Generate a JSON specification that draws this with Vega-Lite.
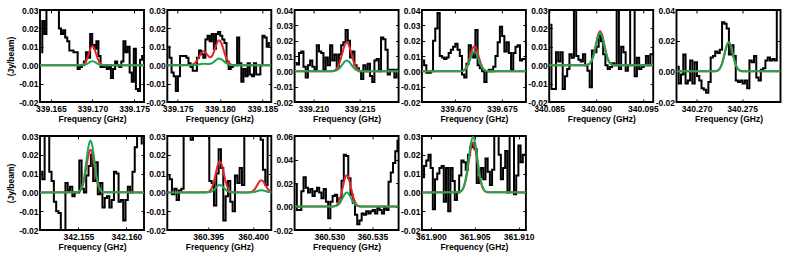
{
"$schema":"https://vega.github.io/schema/vega-lite/v6.json",
"padding":{"left":5,"top":5,"right":2,"bottom":2},
"config":{
 "view":{"stroke":"#000","strokeWidth":1.9},
 "line":{"strokeWidth":2},
 "axis":{"domain":false,"grid":false,"tickSize":-3,"tickColor":"#000","tickWidth":1,"labelColor":"#000","titleColor":"#000","labelFont":"Liberation Sans","titleFont":"Liberation Sans","labelFontSize":8.5,"titleFontSize":8.5,"labelFontWeight":"bold","titleFontWeight":"bold","labelFlush":false,"labelOverlap":false,"labelBound":false},
 "axisX":{"labelPadding":5.5,"titlePadding":1},
 "axisY":{"labelPadding":5,"titlePadding":3},
 "locale":{"number":{"decimal":".","thousands":",","grouping":[3],"currency":["$",""],"minus":"-"}}
},
"datasets":{
"P1s":[{"f":339.16385,"v":0.007},{"f":339.16410,"v":0.024},{"f":339.16435,"v":0.017},{"f":339.16460,"v":0.035},{"f":339.16485,"v":0.035},{"f":339.16510,"v":0.035},{"f":339.16535,"v":0.035},{"f":339.16560,"v":0.035},{"f":339.16585,"v":0.035},{"f":339.16610,"v":0.020},{"f":339.16635,"v":0.017},{"f":339.16660,"v":0.019},{"f":339.16685,"v":0.015},{"f":339.16710,"v":0.013},{"f":339.16735,"v":0.008},{"f":339.16760,"v":0.008},{"f":339.16785,"v":0.007},{"f":339.16810,"v":0.007},{"f":339.16835,"v":-0.002},{"f":339.16860,"v":-0.001},{"f":339.16885,"v":0.000},{"f":339.16910,"v":0.002},{"f":339.16935,"v":0.007},{"f":339.16960,"v":0.004},{"f":339.16985,"v":0.017},{"f":339.17010,"v":0.011},{"f":339.17035,"v":0.009},{"f":339.17060,"v":0.013},{"f":339.17085,"v":0.005},{"f":339.17110,"v":-0.001},{"f":339.17135,"v":-0.001},{"f":339.17160,"v":0.000},{"f":339.17185,"v":-0.002},{"f":339.17210,"v":0.000},{"f":339.17235,"v":-0.007},{"f":339.17260,"v":-0.002},{"f":339.17285,"v":0.002},{"f":339.17310,"v":0.000},{"f":339.17335,"v":-0.001},{"f":339.17360,"v":0.002},{"f":339.17385,"v":0.013},{"f":339.17410,"v":0.007},{"f":339.17435,"v":0.010},{"f":339.17460,"v":-0.004},{"f":339.17485,"v":-0.009},{"f":339.17510,"v":0.009},{"f":339.17535,"v":-0.013},{"f":339.17560,"v":-0.014},{"f":339.17585,"v":0.003},{"f":339.17610,"v":0.005}],
"P1r":[{"f":339.1637,"v":0},{"f":339.16850,"v":0.00002},{"f":339.16871,"v":0.00012},{"f":339.16893,"v":0.00046},{"f":339.16914,"v":0.00142},{"f":339.16936,"v":0.00341},{"f":339.16957,"v":0.00637},{"f":339.16979,"v":0.00927},{"f":339.17000,"v":0.0105},{"f":339.17022,"v":0.00927},{"f":339.17043,"v":0.00637},{"f":339.17065,"v":0.00341},{"f":339.17086,"v":0.00142},{"f":339.17108,"v":0.00046},{"f":339.17129,"v":0.00012},{"f":339.17151,"v":0.00002},{"f":339.1762,"v":0}],
"P1g":[{"f":339.1637,"v":0},{"f":339.16850,"v":0},{"f":339.16871,"v":0.00002},{"f":339.16893,"v":0.0001},{"f":339.16914,"v":0.0003},{"f":339.16936,"v":0.00071},{"f":339.16957,"v":0.00133},{"f":339.16979,"v":0.00194},{"f":339.17000,"v":0.0022},{"f":339.17022,"v":0.00194},{"f":339.17043,"v":0.00133},{"f":339.17065,"v":0.00071},{"f":339.17086,"v":0.0003},{"f":339.17108,"v":0.0001},{"f":339.17129,"v":0.00002},{"f":339.17151,"v":0},{"f":339.1762,"v":0}],
"P2s":[{"f":339.17390,"v":0.010},{"f":339.17415,"v":0.004},{"f":339.17440,"v":-0.004},{"f":339.17465,"v":-0.006},{"f":339.17490,"v":-0.014},{"f":339.17515,"v":-0.006},{"f":339.17540,"v":0.005},{"f":339.17565,"v":0.005},{"f":339.17590,"v":0.005},{"f":339.17615,"v":0.004},{"f":339.17640,"v":0.001},{"f":339.17665,"v":-0.001},{"f":339.17690,"v":-0.003},{"f":339.17715,"v":-0.003},{"f":339.17740,"v":0.004},{"f":339.17765,"v":0.008},{"f":339.17790,"v":0.006},{"f":339.17815,"v":0.004},{"f":339.17840,"v":0.014},{"f":339.17865,"v":0.016},{"f":339.17890,"v":0.013},{"f":339.17915,"v":0.017},{"f":339.17940,"v":0.009},{"f":339.17965,"v":0.017},{"f":339.17990,"v":0.018},{"f":339.18015,"v":0.016},{"f":339.18040,"v":0.014},{"f":339.18065,"v":0.012},{"f":339.18090,"v":0.002},{"f":339.18115,"v":-0.002},{"f":339.18140,"v":-0.001},{"f":339.18165,"v":0.000},{"f":339.18190,"v":0.000},{"f":339.18215,"v":0.015},{"f":339.18240,"v":0.001},{"f":339.18265,"v":-0.009},{"f":339.18290,"v":-0.002},{"f":339.18315,"v":-0.006},{"f":339.18340,"v":0.001},{"f":339.18365,"v":-0.005},{"f":339.18390,"v":-0.006},{"f":339.18415,"v":0.001},{"f":339.18440,"v":-0.005},{"f":339.18465,"v":-0.005},{"f":339.18490,"v":0.000},{"f":339.18515,"v":0.016},{"f":339.18540,"v":0.015},{"f":339.18565,"v":0.010},{"f":339.18590,"v":0.012}],
"P2r":[{"f":339.17377,"v":0},{"f":339.17648,"v":0.0001},{"f":339.17674,"v":0.00033},{"f":339.17700,"v":0.00101},{"f":339.17727,"v":0.00244},{"f":339.17753,"v":0.00455},{"f":339.17780,"v":0.0066},{"f":339.17806,"v":0.00753},{"f":339.17832,"v":0.00677},{"f":339.17859,"v":0.00514},{"f":339.17885,"v":0.00427},{"f":339.17912,"v":0.00539},{"f":339.17938,"v":0.00852},{"f":339.17964,"v":0.01199},{"f":339.17991,"v":0.01352},{"f":339.18017,"v":0.01191},{"f":339.18044,"v":0.00819},{"f":339.18070,"v":0.00438},{"f":339.18096,"v":0.00183},{"f":339.18123,"v":0.00059},{"f":339.18149,"v":0.00015},{"f":339.18176,"v":0.00003},{"f":339.18607,"v":0}],
"P2g":[{"f":339.17377,"v":0},{"f":339.17648,"v":0.00001},{"f":339.17674,"v":0.00004},{"f":339.17700,"v":0.0001},{"f":339.17727,"v":0.00026},{"f":339.17753,"v":0.00049},{"f":339.17780,"v":0.00071},{"f":339.17806,"v":0.0008},{"f":339.17832,"v":0.00075},{"f":339.17859,"v":0.00065},{"f":339.17885,"v":0.00075},{"f":339.17912,"v":0.00128},{"f":339.17938,"v":0.00222},{"f":339.17964,"v":0.00318},{"f":339.17991,"v":0.0036},{"f":339.18017,"v":0.00318},{"f":339.18044,"v":0.00218},{"f":339.18070,"v":0.00117},{"f":339.18096,"v":0.00049},{"f":339.18123,"v":0.00016},{"f":339.18149,"v":0.00004},{"f":339.18176,"v":0.00001},{"f":339.18607,"v":0}],
"P3s":[{"f":339.20808,"v":0.0055},{"f":339.20832,"v":0.0045},{"f":339.20856,"v":0.012},{"f":339.20880,"v":0.013},{"f":339.20904,"v":0.003},{"f":339.20928,"v":-0.004},{"f":339.20952,"v":0.004},{"f":339.20976,"v":0.007},{"f":339.21000,"v":0.003},{"f":339.21024,"v":0.001},{"f":339.21048,"v":0.017},{"f":339.21072,"v":0.013},{"f":339.21096,"v":0.012},{"f":339.21120,"v":0.001},{"f":339.21144,"v":0.009},{"f":339.21168,"v":0.004},{"f":339.21192,"v":0.017},{"f":339.21216,"v":0.007},{"f":339.21240,"v":0.011},{"f":339.21264,"v":0.003},{"f":339.21288,"v":0.011},{"f":339.21312,"v":0.017},{"f":339.21336,"v":0.019},{"f":339.21360,"v":0.027},{"f":339.21384,"v":0.020},{"f":339.21408,"v":0.009},{"f":339.21432,"v":0.013},{"f":339.21456,"v":0.004},{"f":339.21480,"v":0.002},{"f":339.21504,"v":0.000},{"f":339.21528,"v":-0.005},{"f":339.21552,"v":0.004},{"f":339.21576,"v":0.000},{"f":339.21600,"v":0.005},{"f":339.21624,"v":-0.003},{"f":339.21648,"v":-0.007},{"f":339.21672,"v":0.007},{"f":339.21696,"v":0.008},{"f":339.21720,"v":0.000},{"f":339.21744,"v":0.022},{"f":339.21768,"v":0.021},{"f":339.21792,"v":0.014},{"f":339.21816,"v":-0.002},{"f":339.21840,"v":0.001},{"f":339.21864,"v":0.001},{"f":339.21888,"v":-0.004},{"f":339.21912,"v":0.001}],
"P3r":[{"f":339.20796,"v":0},{"f":339.21186,"v":0.00004},{"f":339.21211,"v":0.00021},{"f":339.21236,"v":0.00083},{"f":339.21261,"v":0.00257},{"f":339.21286,"v":0.00617},{"f":339.21311,"v":0.01152},{"f":339.21336,"v":0.01677},{"f":339.21361,"v":0.019},{"f":339.21386,"v":0.01677},{"f":339.21411,"v":0.01152},{"f":339.21436,"v":0.00617},{"f":339.21461,"v":0.00257},{"f":339.21486,"v":0.00083},{"f":339.21511,"v":0.00021},{"f":339.21536,"v":0.00004},{"f":339.21922,"v":0}],
"P3g":[{"f":339.20796,"v":0},{"f":339.21186,"v":0.00002},{"f":339.21211,"v":0.00008},{"f":339.21236,"v":0.00031},{"f":339.21261,"v":0.00095},{"f":339.21286,"v":0.00227},{"f":339.21311,"v":0.00425},{"f":339.21336,"v":0.00618},{"f":339.21361,"v":0.007},{"f":339.21386,"v":0.00618},{"f":339.21411,"v":0.00425},{"f":339.21436,"v":0.00227},{"f":339.21461,"v":0.00095},{"f":339.21486,"v":0.00031},{"f":339.21511,"v":0.00008},{"f":339.21536,"v":0.00002},{"f":339.21922,"v":0}],
"P4s":[{"f":339.66652,"v":0.007},{"f":339.66676,"v":0.004},{"f":339.66700,"v":-0.001},{"f":339.66724,"v":-0.001},{"f":339.66748,"v":0.000},{"f":339.66772,"v":0.020},{"f":339.66796,"v":0.028},{"f":339.66820,"v":0.038},{"f":339.66844,"v":0.010},{"f":339.66868,"v":0.009},{"f":339.66892,"v":0.008},{"f":339.66916,"v":0.009},{"f":339.66940,"v":0.012},{"f":339.66964,"v":0.014},{"f":339.66988,"v":0.016},{"f":339.67012,"v":0.018},{"f":339.67036,"v":0.014},{"f":339.67060,"v":0.010},{"f":339.67084,"v":-0.002},{"f":339.67108,"v":-0.004},{"f":339.67132,"v":0.005},{"f":339.67156,"v":0.017},{"f":339.67180,"v":0.012},{"f":339.67204,"v":0.009},{"f":339.67228,"v":0.027},{"f":339.67252,"v":0.004},{"f":339.67276,"v":0.002},{"f":339.67300,"v":0.000},{"f":339.67324,"v":-0.007},{"f":339.67348,"v":0.000},{"f":339.67372,"v":0.001},{"f":339.67396,"v":0.000},{"f":339.67420,"v":0.003},{"f":339.67444,"v":0.010},{"f":339.67468,"v":0.019},{"f":339.67492,"v":0.029},{"f":339.67516,"v":0.023},{"f":339.67540,"v":0.013},{"f":339.67564,"v":0.019},{"f":339.67588,"v":0.012},{"f":339.67612,"v":0.001},{"f":339.67636,"v":0.012},{"f":339.67660,"v":0.016},{"f":339.67684,"v":0.017},{"f":339.67708,"v":0.007},{"f":339.67732,"v":0.008},{"f":339.67756,"v":0.008}],
"P4r":[{"f":339.6664,"v":0},{"f":339.67048,"v":0.00004},{"f":339.67070,"v":0.00018},{"f":339.67093,"v":0.00072},{"f":339.67115,"v":0.00223},{"f":339.67138,"v":0.00536},{"f":339.67160,"v":0.01001},{"f":339.67183,"v":0.01456},{"f":339.67205,"v":0.0165},{"f":339.67228,"v":0.01456},{"f":339.67250,"v":0.01001},{"f":339.67273,"v":0.00536},{"f":339.67295,"v":0.00223},{"f":339.67318,"v":0.00072},{"f":339.67340,"v":0.00018},{"f":339.67363,"v":0.00004},{"f":339.6776,"v":0}],
"P4g":[{"f":339.6664,"v":0},{"f":339.67048,"v":0.00003},{"f":339.67070,"v":0.00014},{"f":339.67093,"v":0.00057},{"f":339.67115,"v":0.00176},{"f":339.67138,"v":0.00422},{"f":339.67160,"v":0.00788},{"f":339.67183,"v":0.01147},{"f":339.67205,"v":0.013},{"f":339.67228,"v":0.01147},{"f":339.67250,"v":0.00788},{"f":339.67273,"v":0.00422},{"f":339.67295,"v":0.00176},{"f":339.67318,"v":0.00057},{"f":339.67340,"v":0.00014},{"f":339.67363,"v":0.00003},{"f":339.6776,"v":0}],
"P5s":[{"f":340.08512,"v":0.022},{"f":340.08536,"v":-0.013},{"f":340.08560,"v":-0.013},{"f":340.08584,"v":0.007},{"f":340.08608,"v":0.002},{"f":340.08632,"v":0.007},{"f":340.08656,"v":-0.013},{"f":340.08680,"v":-0.006},{"f":340.08704,"v":-0.002},{"f":340.08728,"v":0.006},{"f":340.08752,"v":0.004},{"f":340.08776,"v":0.035},{"f":340.08800,"v":0.005},{"f":340.08824,"v":0.003},{"f":340.08848,"v":0.002},{"f":340.08872,"v":0.006},{"f":340.08896,"v":0.000},{"f":340.08920,"v":-0.003},{"f":340.08944,"v":-0.012},{"f":340.08968,"v":0.008},{"f":340.08992,"v":0.007},{"f":340.09016,"v":0.010},{"f":340.09040,"v":0.016},{"f":340.09064,"v":0.013},{"f":340.09088,"v":0.006},{"f":340.09112,"v":0.000},{"f":340.09136,"v":-0.002},{"f":340.09160,"v":-0.001},{"f":340.09184,"v":0.001},{"f":340.09208,"v":0.000},{"f":340.09232,"v":0.035},{"f":340.09256,"v":-0.002},{"f":340.09280,"v":0.010},{"f":340.09304,"v":0.007},{"f":340.09328,"v":-0.003},{"f":340.09352,"v":0.000},{"f":340.09376,"v":0.035},{"f":340.09400,"v":0.035},{"f":340.09424,"v":-0.006},{"f":340.09448,"v":0.004},{"f":340.09472,"v":-0.002},{"f":340.09496,"v":-0.001},{"f":340.09520,"v":0.000},{"f":340.09544,"v":0.005},{"f":340.09568,"v":0.000},{"f":340.09592,"v":0.006},{"f":340.09616,"v":0.006}],
"P5r":[{"f":340.085,"v":0},{"f":340.08886,"v":0.00004},{"f":340.08908,"v":0.00021},{"f":340.08931,"v":0.00081},{"f":340.08953,"v":0.0025},{"f":340.08976,"v":0.00601},{"f":340.08998,"v":0.01122},{"f":340.09021,"v":0.01633},{"f":340.09043,"v":0.0185},{"f":340.09066,"v":0.01633},{"f":340.09088,"v":0.01122},{"f":340.09111,"v":0.00601},{"f":340.09133,"v":0.0025},{"f":340.09156,"v":0.00081},{"f":340.09178,"v":0.00021},{"f":340.09201,"v":0.00004},{"f":340.0961,"v":0}],
"P5g":[{"f":340.085,"v":0},{"f":340.08886,"v":0.00004},{"f":340.08908,"v":0.00019},{"f":340.08931,"v":0.00077},{"f":340.08953,"v":0.00237},{"f":340.08976,"v":0.00568},{"f":340.08998,"v":0.01061},{"f":340.09021,"v":0.01544},{"f":340.09043,"v":0.0175},{"f":340.09066,"v":0.01544},{"f":340.09088,"v":0.01061},{"f":340.09111,"v":0.00568},{"f":340.09133,"v":0.00237},{"f":340.09156,"v":0.00077},{"f":340.09178,"v":0.00019},{"f":340.09201,"v":0.00004},{"f":340.0961,"v":0}],
"P6s":[{"f":340.26792,"v":0.003},{"f":340.26817,"v":-0.008},{"f":340.26842,"v":-0.002},{"f":340.26867,"v":0.011},{"f":340.26892,"v":-0.008},{"f":340.26917,"v":-0.006},{"f":340.26942,"v":0.007},{"f":340.26967,"v":-0.008},{"f":340.26992,"v":0.006},{"f":340.27017,"v":-0.003},{"f":340.27042,"v":-0.006},{"f":340.27067,"v":-0.011},{"f":340.27092,"v":-0.012},{"f":340.27117,"v":-0.014},{"f":340.27142,"v":-0.007},{"f":340.27167,"v":0.009},{"f":340.27192,"v":0.010},{"f":340.27217,"v":0.013},{"f":340.27242,"v":0.012},{"f":340.27267,"v":0.014},{"f":340.27292,"v":0.032},{"f":340.27317,"v":0.031},{"f":340.27342,"v":0.028},{"f":340.27367,"v":0.011},{"f":340.27392,"v":0.017},{"f":340.27417,"v":0.010},{"f":340.27442,"v":-0.006},{"f":340.27467,"v":-0.007},{"f":340.27492,"v":-0.006},{"f":340.27517,"v":-0.008},{"f":340.27542,"v":-0.006},{"f":340.27567,"v":-0.011},{"f":340.27592,"v":0.007},{"f":340.27617,"v":0.006},{"f":340.27642,"v":0.010},{"f":340.27667,"v":-0.004},{"f":340.27692,"v":-0.006},{"f":340.27717,"v":0.001},{"f":340.27742,"v":0.002},{"f":340.27767,"v":0.007},{"f":340.27792,"v":0.009},{"f":340.27817,"v":0.007},{"f":340.27842,"v":0.008},{"f":340.27867,"v":0.007},{"f":340.27892,"v":0.045},{"f":340.27917,"v":0.045}],
"P6r":[{"f":340.2678,"v":0},{"f":340.27195,"v":0.00004},{"f":340.27217,"v":0.00021},{"f":340.27240,"v":0.00083},{"f":340.27262,"v":0.00254},{"f":340.27285,"v":0.0061},{"f":340.27307,"v":0.0114},{"f":340.27330,"v":0.01659},{"f":340.27352,"v":0.0188},{"f":340.27375,"v":0.01659},{"f":340.27397,"v":0.0114},{"f":340.27420,"v":0.0061},{"f":340.27442,"v":0.00254},{"f":340.27465,"v":0.00083},{"f":340.27487,"v":0.00021},{"f":340.27510,"v":0.00004},{"f":340.2792,"v":0}],
"P6g":[{"f":340.2678,"v":0},{"f":340.27195,"v":0.00004},{"f":340.27217,"v":0.00021},{"f":340.27240,"v":0.00083},{"f":340.27262,"v":0.00257},{"f":340.27285,"v":0.00617},{"f":340.27307,"v":0.01152},{"f":340.27330,"v":0.01677},{"f":340.27352,"v":0.019},{"f":340.27375,"v":0.01677},{"f":340.27397,"v":0.01152},{"f":340.27420,"v":0.00617},{"f":340.27442,"v":0.00257},{"f":340.27465,"v":0.00083},{"f":340.27487,"v":0.00021},{"f":340.27510,"v":0.00004},{"f":340.2792,"v":0}],
"B1s":[{"f":342.15114,"v":0.011},{"f":342.15138,"v":0.007},{"f":342.15162,"v":0.035},{"f":342.15186,"v":0.035},{"f":342.15210,"v":0.011},{"f":342.15234,"v":0.006},{"f":342.15258,"v":-0.005},{"f":342.15282,"v":-0.010},{"f":342.15306,"v":-0.011},{"f":342.15330,"v":-0.025},{"f":342.15354,"v":-0.025},{"f":342.15378,"v":0.005},{"f":342.15402,"v":0.001},{"f":342.15426,"v":0.003},{"f":342.15450,"v":-0.002},{"f":342.15474,"v":0.000},{"f":342.15498,"v":0.000},{"f":342.15522,"v":0.017},{"f":342.15546,"v":0.002},{"f":342.15570,"v":0.000},{"f":342.15594,"v":0.009},{"f":342.15618,"v":0.014},{"f":342.15642,"v":0.020},{"f":342.15666,"v":0.006},{"f":342.15690,"v":0.016},{"f":342.15714,"v":-0.001},{"f":342.15738,"v":0.005},{"f":342.15762,"v":-0.008},{"f":342.15786,"v":-0.003},{"f":342.15810,"v":-0.002},{"f":342.15834,"v":-0.008},{"f":342.15858,"v":-0.004},{"f":342.15882,"v":0.011},{"f":342.15906,"v":0.010},{"f":342.15930,"v":-0.005},{"f":342.15954,"v":-0.004},{"f":342.15978,"v":-0.015},{"f":342.16002,"v":-0.004},{"f":342.16026,"v":0.003},{"f":342.16050,"v":0.000},{"f":342.16074,"v":0.011},{"f":342.16098,"v":0.024},{"f":342.16122,"v":0.035},{"f":342.16146,"v":0.035},{"f":342.16170,"v":0.026}],
"B1r":[{"f":342.15102,"v":0},{"f":342.15479,"v":0.00005},{"f":342.15500,"v":0.00025},{"f":342.15521,"v":0.001},{"f":342.15542,"v":0.00307},{"f":342.15563,"v":0.00737},{"f":342.15584,"v":0.01377},{"f":342.15605,"v":0.02003},{"f":342.15626,"v":0.0227},{"f":342.15647,"v":0.02003},{"f":342.15668,"v":0.01377},{"f":342.15689,"v":0.00737},{"f":342.15710,"v":0.00307},{"f":342.15731,"v":0.001},{"f":342.15752,"v":0.00025},{"f":342.15773,"v":0.00005},{"f":342.16182,"v":0}],
"B1g":[{"f":342.15102,"v":0},{"f":342.15479,"v":0.00006},{"f":342.15500,"v":0.00031},{"f":342.15521,"v":0.00121},{"f":342.15542,"v":0.00373},{"f":342.15563,"v":0.00896},{"f":342.15584,"v":0.01674},{"f":342.15605,"v":0.02436},{"f":342.15626,"v":0.0276},{"f":342.15647,"v":0.02436},{"f":342.15668,"v":0.01674},{"f":342.15689,"v":0.00896},{"f":342.15710,"v":0.00373},{"f":342.15731,"v":0.00121},{"f":342.15752,"v":0.00031},{"f":342.15773,"v":0.00006},{"f":342.16182,"v":0}],
"B2s":[{"f":360.39057,"v":0.009},{"f":360.39083,"v":0.007},{"f":360.39109,"v":-0.001},{"f":360.39135,"v":0.002},{"f":360.39161,"v":-0.004},{"f":360.39187,"v":0.001},{"f":360.39213,"v":0.002},{"f":360.39239,"v":0.035},{"f":360.39265,"v":0.035},{"f":360.39291,"v":0.035},{"f":360.39317,"v":0.028},{"f":360.39343,"v":0.035},{"f":360.39369,"v":0.035},{"f":360.39395,"v":0.035},{"f":360.39421,"v":0.035},{"f":360.39447,"v":0.035},{"f":360.39473,"v":0.035},{"f":360.39499,"v":0.035},{"f":360.39525,"v":0.006},{"f":360.39551,"v":0.005},{"f":360.39577,"v":-0.007},{"f":360.39603,"v":0.010},{"f":360.39629,"v":0.023},{"f":360.39655,"v":0.013},{"f":360.39681,"v":-0.015},{"f":360.39707,"v":-0.002},{"f":360.39733,"v":0.006},{"f":360.39759,"v":-0.005},{"f":360.39785,"v":-0.010},{"f":360.39811,"v":0.009},{"f":360.39837,"v":0.005},{"f":360.39863,"v":0.013},{"f":360.39889,"v":0.004},{"f":360.39915,"v":0.035},{"f":360.39941,"v":0.035},{"f":360.39967,"v":0.035},{"f":360.39993,"v":0.035},{"f":360.40019,"v":0.035},{"f":360.40045,"v":0.035},{"f":360.40071,"v":0.035},{"f":360.40097,"v":0.028},{"f":360.40123,"v":0.012},{"f":360.40149,"v":0.004},{"f":360.40175,"v":0.035},{"f":360.40201,"v":0.035}],
"B2r":[{"f":360.39044,"v":0},{"f":360.39472,"v":0.00004},{"f":360.39494,"v":0.00018},{"f":360.39517,"v":0.00072},{"f":360.39539,"v":0.00223},{"f":360.39562,"v":0.00536},{"f":360.39584,"v":0.01001},{"f":360.39607,"v":0.01456},{"f":360.39629,"v":0.0165},{"f":360.39652,"v":0.01456},{"f":360.39674,"v":0.01001},{"f":360.39697,"v":0.00536},{"f":360.39719,"v":0.00223},{"f":360.39742,"v":0.00072},{"f":360.39764,"v":0.00018},{"f":360.39787,"v":0.00004},{"f":360.39935,"v":0.00001},{"f":360.39957,"v":0.00007},{"f":360.39980,"v":0.00029},{"f":360.40002,"v":0.00088},{"f":360.40025,"v":0.00211},{"f":360.40047,"v":0.00394},{"f":360.40070,"v":0.00574},{"f":360.40092,"v":0.0065},{"f":360.40115,"v":0.00574},{"f":360.40137,"v":0.00394},{"f":360.40160,"v":0.00211},{"f":360.40182,"v":0.00088},{"f":360.40205,"v":0.00029},{"f":360.40227,"v":0.00007},{"f":360.40250,"v":0.00001}],
"B2g":[{"f":360.39044,"v":0},{"f":360.39472,"v":0.00001},{"f":360.39494,"v":0.00004},{"f":360.39517,"v":0.00018},{"f":360.39539,"v":0.00054},{"f":360.39562,"v":0.0013},{"f":360.39584,"v":0.00243},{"f":360.39607,"v":0.00353},{"f":360.39629,"v":0.004},{"f":360.39652,"v":0.00353},{"f":360.39674,"v":0.00243},{"f":360.39697,"v":0.0013},{"f":360.39719,"v":0.00054},{"f":360.39742,"v":0.00018},{"f":360.39764,"v":0.00004},{"f":360.39787,"v":0.00001},{"f":360.39935,"v":0},{"f":360.39957,"v":0.00001},{"f":360.39980,"v":0.00005},{"f":360.40002,"v":0.00016},{"f":360.40025,"v":0.00039},{"f":360.40047,"v":0.00073},{"f":360.40070,"v":0.00106},{"f":360.40092,"v":0.0012},{"f":360.40115,"v":0.00106},{"f":360.40137,"v":0.00073},{"f":360.40160,"v":0.00039},{"f":360.40182,"v":0.00016},{"f":360.40205,"v":0.00005},{"f":360.40227,"v":0.00001},{"f":360.40250,"v":0}],
"B3s":[{"f":360.52610,"v":0.019},{"f":360.52636,"v":-0.003},{"f":360.52662,"v":-0.003},{"f":360.52688,"v":0.013},{"f":360.52714,"v":0.025},{"f":360.52740,"v":0.016},{"f":360.52766,"v":0.012},{"f":360.52792,"v":0.015},{"f":360.52818,"v":0.009},{"f":360.52844,"v":0.013},{"f":360.52870,"v":0.016},{"f":360.52896,"v":0.012},{"f":360.52922,"v":0.007},{"f":360.52948,"v":0.015},{"f":360.52974,"v":0.004},{"f":360.53000,"v":-0.010},{"f":360.53026,"v":0.004},{"f":360.53052,"v":0.009},{"f":360.53078,"v":0.010},{"f":360.53104,"v":0.004},{"f":360.53130,"v":0.007},{"f":360.53156,"v":0.022},{"f":360.53182,"v":0.044},{"f":360.53208,"v":0.043},{"f":360.53234,"v":0.024},{"f":360.53260,"v":0.010},{"f":360.53286,"v":0.003},{"f":360.53312,"v":-0.007},{"f":360.53338,"v":-0.015},{"f":360.53364,"v":-0.012},{"f":360.53390,"v":-0.006},{"f":360.53416,"v":-0.007},{"f":360.53442,"v":-0.004},{"f":360.53468,"v":-0.006},{"f":360.53494,"v":-0.004},{"f":360.53520,"v":-0.003},{"f":360.53546,"v":-0.006},{"f":360.53572,"v":-0.001},{"f":360.53598,"v":-0.003},{"f":360.53624,"v":-0.006},{"f":360.53650,"v":-0.001},{"f":360.53676,"v":-0.003},{"f":360.53702,"v":0.021},{"f":360.53728,"v":0.029},{"f":360.53754,"v":0.037},{"f":360.53780,"v":0.047},{"f":360.53806,"v":0.056}],
"B3r":[{"f":360.52597,"v":0},{"f":360.53036,"v":0.00006},{"f":360.53060,"v":0.00029},{"f":360.53084,"v":0.00116},{"f":360.53108,"v":0.00359},{"f":360.53132,"v":0.0086},{"f":360.53156,"v":0.01607},{"f":360.53180,"v":0.02339},{"f":360.53204,"v":0.0265},{"f":360.53228,"v":0.02339},{"f":360.53252,"v":0.01607},{"f":360.53276,"v":0.0086},{"f":360.53300,"v":0.00359},{"f":360.53324,"v":0.00116},{"f":360.53348,"v":0.00029},{"f":360.53372,"v":0.00006},{"f":360.53806,"v":0}],
"B3g":[{"f":360.52597,"v":0},{"f":360.53036,"v":0.00003},{"f":360.53060,"v":0.00013},{"f":360.53084,"v":0.00053},{"f":360.53108,"v":0.00162},{"f":360.53132,"v":0.0039},{"f":360.53156,"v":0.00728},{"f":360.53180,"v":0.01059},{"f":360.53204,"v":0.012},{"f":360.53228,"v":0.01059},{"f":360.53252,"v":0.00728},{"f":360.53276,"v":0.0039},{"f":360.53300,"v":0.00162},{"f":360.53324,"v":0.00053},{"f":360.53348,"v":0.00013},{"f":360.53372,"v":0.00003},{"f":360.53806,"v":0}],
"B4s":[{"f":361.89910,"v":0.008},{"f":361.89935,"v":0.014},{"f":361.89960,"v":0.017},{"f":361.89985,"v":0.020},{"f":361.90010,"v":0.013},{"f":361.90035,"v":-0.009},{"f":361.90060,"v":0.007},{"f":361.90085,"v":0.010},{"f":361.90110,"v":0.013},{"f":361.90135,"v":0.014},{"f":361.90160,"v":-0.005},{"f":361.90185,"v":0.013},{"f":361.90210,"v":-0.010},{"f":361.90235,"v":0.013},{"f":361.90260,"v":0.006},{"f":361.90285,"v":-0.004},{"f":361.90310,"v":0.000},{"f":361.90335,"v":0.009},{"f":361.90360,"v":0.017},{"f":361.90385,"v":0.016},{"f":361.90410,"v":0.012},{"f":361.90435,"v":0.020},{"f":361.90460,"v":0.024},{"f":361.90485,"v":0.026},{"f":361.90510,"v":0.023},{"f":361.90535,"v":0.005},{"f":361.90560,"v":0.008},{"f":361.90585,"v":0.013},{"f":361.90610,"v":0.007},{"f":361.90635,"v":0.018},{"f":361.90660,"v":0.011},{"f":361.90685,"v":0.004},{"f":361.90710,"v":0.012},{"f":361.90735,"v":0.035},{"f":361.90760,"v":0.035},{"f":361.90785,"v":0.020},{"f":361.90810,"v":0.007},{"f":361.90835,"v":0.013},{"f":361.90860,"v":0.022},{"f":361.90885,"v":0.000},{"f":361.90910,"v":0.035},{"f":361.90935,"v":0.035},{"f":361.90960,"v":-0.001},{"f":361.90985,"v":0.009},{"f":361.91010,"v":0.025},{"f":361.91035,"v":0.016},{"f":361.91060,"v":0.020},{"f":361.91085,"v":0.020}],
"B4r":[{"f":361.89898,"v":0},{"f":361.90306,"v":0.00006},{"f":361.90331,"v":0.00029},{"f":361.90356,"v":0.00116},{"f":361.90381,"v":0.00359},{"f":361.90406,"v":0.0086},{"f":361.90431,"v":0.01607},{"f":361.90456,"v":0.02339},{"f":361.90481,"v":0.0265},{"f":361.90506,"v":0.02339},{"f":361.90531,"v":0.01607},{"f":361.90556,"v":0.0086},{"f":361.90581,"v":0.00359},{"f":361.90606,"v":0.00116},{"f":361.90631,"v":0.00029},{"f":361.90656,"v":0.00006},{"f":361.91083,"v":0}],
"B4g":[{"f":361.89898,"v":0},{"f":361.90306,"v":0.00006},{"f":361.90331,"v":0.00033},{"f":361.90356,"v":0.0013},{"f":361.90381,"v":0.00399},{"f":361.90406,"v":0.00958},{"f":361.90431,"v":0.01789},{"f":361.90456,"v":0.02603},{"f":361.90481,"v":0.0295},{"f":361.90506,"v":0.02603},{"f":361.90531,"v":0.01789},{"f":361.90556,"v":0.00958},{"f":361.90581,"v":0.00399},{"f":361.90606,"v":0.0013},{"f":361.90631,"v":0.00033},{"f":361.90656,"v":0.00006},{"f":361.91083,"v":0}]
},
"columns":6,
"spacing":{"row":34,"column":23.3},
"bounds":"flush",
"concat":[
 {"width":104,"height":92,"resolve":{"axis":{"x":"independent","y":"independent"}},"layer":[
  {"data":{"name":"P1s"},"mark":{"type":"line","interpolate":"step","color":"#000","clip":true},"encoding":{"x":{"field":"f","type":"quantitative","scale":{"domain":[339.1637,339.1762],"nice":false,"zero":false},"axis":{"values":[339.165,339.17,339.175],"format":".3f","title":"Frequency (GHz)"}},"y":{"field":"v","type":"quantitative","scale":{"domain":[-0.02,0.03],"nice":false,"zero":false},"axis":{"values":[-0.02,-0.01,0,0.01,0.02,0.03],"format":".2f","title":"(Jy/beam)"}}}},
  {"data":{"name":"P1r"},"mark":{"type":"line","interpolate":"monotone","color":"#e8232a","clip":true},"encoding":{"x":{"field":"f","type":"quantitative","scale":{"domain":[339.1637,339.1762],"nice":false,"zero":false},"axis":{"orient":"top","labels":false,"title":null,"values":[339.165,339.17,339.175]}},"y":{"field":"v","type":"quantitative","scale":{"domain":[-0.02,0.03],"nice":false,"zero":false},"axis":{"orient":"right","labels":false,"title":null,"values":[-0.02,-0.01,0,0.01,0.02,0.03]}}}},
  {"data":{"name":"P1g"},"mark":{"type":"line","interpolate":"monotone","color":"#1fa54f","clip":true},"encoding":{"x":{"field":"f","type":"quantitative","scale":{"domain":[339.1637,339.1762],"nice":false,"zero":false},"axis":null},"y":{"field":"v","type":"quantitative","scale":{"domain":[-0.02,0.03],"nice":false,"zero":false},"axis":null}}}
 ]},
 {"width":104,"height":92,"resolve":{"axis":{"x":"independent","y":"independent"}},"layer":[
  {"data":{"name":"P2s"},"mark":{"type":"line","interpolate":"step","color":"#000","clip":true},"encoding":{"x":{"field":"f","type":"quantitative","scale":{"domain":[339.17377,339.18607],"nice":false,"zero":false},"axis":{"values":[339.175,339.18,339.185],"format":".3f","title":"Frequency (GHz)"}},"y":{"field":"v","type":"quantitative","scale":{"domain":[-0.02,0.03],"nice":false,"zero":false},"axis":{"values":[-0.02,-0.01,0,0.01,0.02,0.03],"format":".2f","title":null}}}},
  {"data":{"name":"P2r"},"mark":{"type":"line","interpolate":"monotone","color":"#e8232a","clip":true},"encoding":{"x":{"field":"f","type":"quantitative","scale":{"domain":[339.17377,339.18607],"nice":false,"zero":false},"axis":{"orient":"top","labels":false,"title":null,"values":[339.175,339.18,339.185]}},"y":{"field":"v","type":"quantitative","scale":{"domain":[-0.02,0.03],"nice":false,"zero":false},"axis":{"orient":"right","labels":false,"title":null,"values":[-0.02,-0.01,0,0.01,0.02,0.03]}}}},
  {"data":{"name":"P2g"},"mark":{"type":"line","interpolate":"monotone","color":"#1fa54f","clip":true},"encoding":{"x":{"field":"f","type":"quantitative","scale":{"domain":[339.17377,339.18607],"nice":false,"zero":false},"axis":null},"y":{"field":"v","type":"quantitative","scale":{"domain":[-0.02,0.03],"nice":false,"zero":false},"axis":null}}}
 ]},
 {"width":104,"height":92,"resolve":{"axis":{"x":"independent","y":"independent"}},"layer":[
  {"data":{"name":"P3s"},"mark":{"type":"line","interpolate":"step","color":"#000","clip":true},"encoding":{"x":{"field":"f","type":"quantitative","scale":{"domain":[339.20796,339.21922],"nice":false,"zero":false},"axis":{"values":[339.21,339.215],"format":".3f","title":"Frequency (GHz)"}},"y":{"field":"v","type":"quantitative","scale":{"domain":[-0.02,0.04],"nice":false,"zero":false},"axis":{"values":[-0.02,-0.01,0,0.01,0.02,0.03,0.04],"format":".2f","title":null}}}},
  {"data":{"name":"P3r"},"mark":{"type":"line","interpolate":"monotone","color":"#e8232a","clip":true},"encoding":{"x":{"field":"f","type":"quantitative","scale":{"domain":[339.20796,339.21922],"nice":false,"zero":false},"axis":{"orient":"top","labels":false,"title":null,"values":[339.21,339.215]}},"y":{"field":"v","type":"quantitative","scale":{"domain":[-0.02,0.04],"nice":false,"zero":false},"axis":{"orient":"right","labels":false,"title":null,"values":[-0.02,-0.01,0,0.01,0.02,0.03,0.04]}}}},
  {"data":{"name":"P3g"},"mark":{"type":"line","interpolate":"monotone","color":"#1fa54f","clip":true},"encoding":{"x":{"field":"f","type":"quantitative","scale":{"domain":[339.20796,339.21922],"nice":false,"zero":false},"axis":null},"y":{"field":"v","type":"quantitative","scale":{"domain":[-0.02,0.04],"nice":false,"zero":false},"axis":null}}}
 ]},
 {"width":104,"height":92,"resolve":{"axis":{"x":"independent","y":"independent"}},"layer":[
  {"data":{"name":"P4s"},"mark":{"type":"line","interpolate":"step","color":"#000","clip":true},"encoding":{"x":{"field":"f","type":"quantitative","scale":{"domain":[339.6664,339.6776],"nice":false,"zero":false},"axis":{"values":[339.67,339.675],"format":".3f","title":"Frequency (GHz)"}},"y":{"field":"v","type":"quantitative","scale":{"domain":[-0.02,0.04],"nice":false,"zero":false},"axis":{"values":[-0.02,-0.01,0,0.01,0.02,0.03,0.04],"format":".2f","title":null}}}},
  {"data":{"name":"P4r"},"mark":{"type":"line","interpolate":"monotone","color":"#e8232a","clip":true},"encoding":{"x":{"field":"f","type":"quantitative","scale":{"domain":[339.6664,339.6776],"nice":false,"zero":false},"axis":{"orient":"top","labels":false,"title":null,"values":[339.67,339.675]}},"y":{"field":"v","type":"quantitative","scale":{"domain":[-0.02,0.04],"nice":false,"zero":false},"axis":{"orient":"right","labels":false,"title":null,"values":[-0.02,-0.01,0,0.01,0.02,0.03,0.04]}}}},
  {"data":{"name":"P4g"},"mark":{"type":"line","interpolate":"monotone","color":"#1fa54f","clip":true},"encoding":{"x":{"field":"f","type":"quantitative","scale":{"domain":[339.6664,339.6776],"nice":false,"zero":false},"axis":null},"y":{"field":"v","type":"quantitative","scale":{"domain":[-0.02,0.04],"nice":false,"zero":false},"axis":null}}}
 ]},
 {"width":104,"height":92,"resolve":{"axis":{"x":"independent","y":"independent"}},"layer":[
  {"data":{"name":"P5s"},"mark":{"type":"line","interpolate":"step","color":"#000","clip":true},"encoding":{"x":{"field":"f","type":"quantitative","scale":{"domain":[340.085,340.0961],"nice":false,"zero":false},"axis":{"values":[340.085,340.09,340.095],"format":".3f","title":"Frequency (GHz)"}},"y":{"field":"v","type":"quantitative","scale":{"domain":[-0.02,0.03],"nice":false,"zero":false},"axis":{"values":[-0.02,-0.01,0,0.01,0.02,0.03],"format":".2f","title":null}}}},
  {"data":{"name":"P5r"},"mark":{"type":"line","interpolate":"monotone","color":"#e8232a","clip":true},"encoding":{"x":{"field":"f","type":"quantitative","scale":{"domain":[340.085,340.0961],"nice":false,"zero":false},"axis":{"orient":"top","labels":false,"title":null,"values":[340.085,340.09,340.095]}},"y":{"field":"v","type":"quantitative","scale":{"domain":[-0.02,0.03],"nice":false,"zero":false},"axis":{"orient":"right","labels":false,"title":null,"values":[-0.02,-0.01,0,0.01,0.02,0.03]}}}},
  {"data":{"name":"P5g"},"mark":{"type":"line","interpolate":"monotone","color":"#1fa54f","clip":true},"encoding":{"x":{"field":"f","type":"quantitative","scale":{"domain":[340.085,340.0961],"nice":false,"zero":false},"axis":null},"y":{"field":"v","type":"quantitative","scale":{"domain":[-0.02,0.03],"nice":false,"zero":false},"axis":null}}}
 ]},
 {"width":104,"height":92,"resolve":{"axis":{"x":"independent","y":"independent"}},"layer":[
  {"data":{"name":"P6s"},"mark":{"type":"line","interpolate":"step","color":"#000","clip":true},"encoding":{"x":{"field":"f","type":"quantitative","scale":{"domain":[340.2678,340.2792],"nice":false,"zero":false},"axis":{"values":[340.27,340.275],"format":".3f","title":"Frequency (GHz)"}},"y":{"field":"v","type":"quantitative","scale":{"domain":[-0.02,0.04],"nice":false,"zero":false},"axis":{"values":[-0.02,0,0.02,0.04],"format":".2f","title":null}}}},
  {"data":{"name":"P6r"},"mark":{"type":"line","interpolate":"monotone","color":"#e8232a","clip":true},"encoding":{"x":{"field":"f","type":"quantitative","scale":{"domain":[340.2678,340.2792],"nice":false,"zero":false},"axis":{"orient":"top","labels":false,"title":null,"values":[340.27,340.275]}},"y":{"field":"v","type":"quantitative","scale":{"domain":[-0.02,0.04],"nice":false,"zero":false},"axis":{"orient":"right","labels":false,"title":null,"values":[-0.02,0,0.02,0.04]}}}},
  {"data":{"name":"P6g"},"mark":{"type":"line","interpolate":"monotone","color":"#1fa54f","clip":true},"encoding":{"x":{"field":"f","type":"quantitative","scale":{"domain":[340.2678,340.2792],"nice":false,"zero":false},"axis":null},"y":{"field":"v","type":"quantitative","scale":{"domain":[-0.02,0.04],"nice":false,"zero":false},"axis":null}}}
 ]},
 {"width":104,"height":94,"resolve":{"axis":{"x":"independent","y":"independent"}},"layer":[
  {"data":{"name":"B1s"},"mark":{"type":"line","interpolate":"step","color":"#000","clip":true},"encoding":{"x":{"field":"f","type":"quantitative","scale":{"domain":[342.15102,342.16182],"nice":false,"zero":false},"axis":{"values":[342.155,342.16],"format":".3f","title":"Frequency (GHz)"}},"y":{"field":"v","type":"quantitative","scale":{"domain":[-0.02,0.03],"nice":false,"zero":false},"axis":{"values":[-0.02,-0.01,0,0.01,0.02,0.03],"format":".2f","title":"(Jy/beam)"}}}},
  {"data":{"name":"B1r"},"mark":{"type":"line","interpolate":"monotone","color":"#e8232a","clip":true},"encoding":{"x":{"field":"f","type":"quantitative","scale":{"domain":[342.15102,342.16182],"nice":false,"zero":false},"axis":{"orient":"top","labels":false,"title":null,"values":[342.155,342.16]}},"y":{"field":"v","type":"quantitative","scale":{"domain":[-0.02,0.03],"nice":false,"zero":false},"axis":{"orient":"right","labels":false,"title":null,"values":[-0.02,-0.01,0,0.01,0.02,0.03]}}}},
  {"data":{"name":"B1g"},"mark":{"type":"line","interpolate":"monotone","color":"#1fa54f","clip":true},"encoding":{"x":{"field":"f","type":"quantitative","scale":{"domain":[342.15102,342.16182],"nice":false,"zero":false},"axis":null},"y":{"field":"v","type":"quantitative","scale":{"domain":[-0.02,0.03],"nice":false,"zero":false},"axis":null}}}
 ]},
 {"width":104,"height":94,"resolve":{"axis":{"x":"independent","y":"independent"}},"layer":[
  {"data":{"name":"B2s"},"mark":{"type":"line","interpolate":"step","color":"#000","clip":true},"encoding":{"x":{"field":"f","type":"quantitative","scale":{"domain":[360.39044,360.40203],"nice":false,"zero":false},"axis":{"values":[360.395,360.4],"format":".3f","title":"Frequency (GHz)"}},"y":{"field":"v","type":"quantitative","scale":{"domain":[-0.02,0.03],"nice":false,"zero":false},"axis":{"values":[-0.02,-0.01,0,0.01,0.02,0.03],"format":".2f","title":null}}}},
  {"data":{"name":"B2r"},"mark":{"type":"line","interpolate":"monotone","color":"#e8232a","clip":true},"encoding":{"x":{"field":"f","type":"quantitative","scale":{"domain":[360.39044,360.40203],"nice":false,"zero":false},"axis":{"orient":"top","labels":false,"title":null,"values":[360.395,360.4]}},"y":{"field":"v","type":"quantitative","scale":{"domain":[-0.02,0.03],"nice":false,"zero":false},"axis":{"orient":"right","labels":false,"title":null,"values":[-0.02,-0.01,0,0.01,0.02,0.03]}}}},
  {"data":{"name":"B2g"},"mark":{"type":"line","interpolate":"monotone","color":"#1fa54f","clip":true},"encoding":{"x":{"field":"f","type":"quantitative","scale":{"domain":[360.39044,360.40203],"nice":false,"zero":false},"axis":null},"y":{"field":"v","type":"quantitative","scale":{"domain":[-0.02,0.03],"nice":false,"zero":false},"axis":null}}}
 ]},
 {"width":104,"height":94,"resolve":{"axis":{"x":"independent","y":"independent"}},"layer":[
  {"data":{"name":"B3s"},"mark":{"type":"line","interpolate":"step","color":"#000","clip":true},"encoding":{"x":{"field":"f","type":"quantitative","scale":{"domain":[360.52597,360.53806],"nice":false,"zero":false},"axis":{"values":[360.53,360.535],"format":".3f","title":"Frequency (GHz)"}},"y":{"field":"v","type":"quantitative","scale":{"domain":[-0.02,0.06],"nice":false,"zero":false},"axis":{"values":[-0.02,0,0.02,0.04,0.06],"format":".2f","title":null}}}},
  {"data":{"name":"B3r"},"mark":{"type":"line","interpolate":"monotone","color":"#e8232a","clip":true},"encoding":{"x":{"field":"f","type":"quantitative","scale":{"domain":[360.52597,360.53806],"nice":false,"zero":false},"axis":{"orient":"top","labels":false,"title":null,"values":[360.53,360.535]}},"y":{"field":"v","type":"quantitative","scale":{"domain":[-0.02,0.06],"nice":false,"zero":false},"axis":{"orient":"right","labels":false,"title":null,"values":[-0.02,0,0.02,0.04,0.06]}}}},
  {"data":{"name":"B3g"},"mark":{"type":"line","interpolate":"monotone","color":"#1fa54f","clip":true},"encoding":{"x":{"field":"f","type":"quantitative","scale":{"domain":[360.52597,360.53806],"nice":false,"zero":false},"axis":null},"y":{"field":"v","type":"quantitative","scale":{"domain":[-0.02,0.06],"nice":false,"zero":false},"axis":null}}}
 ]},
 {"width":104,"height":94,"resolve":{"axis":{"x":"independent","y":"independent"}},"layer":[
  {"data":{"name":"B4s"},"mark":{"type":"line","interpolate":"step","color":"#000","clip":true},"encoding":{"x":{"field":"f","type":"quantitative","scale":{"domain":[361.89898,361.91083],"nice":false,"zero":false},"axis":{"values":[361.9,361.905,361.91],"format":".3f","title":"Frequency (GHz)"}},"y":{"field":"v","type":"quantitative","scale":{"domain":[-0.02,0.03],"nice":false,"zero":false},"axis":{"values":[-0.02,-0.01,0,0.01,0.02,0.03],"format":".2f","title":null}}}},
  {"data":{"name":"B4r"},"mark":{"type":"line","interpolate":"monotone","color":"#e8232a","clip":true},"encoding":{"x":{"field":"f","type":"quantitative","scale":{"domain":[361.89898,361.91083],"nice":false,"zero":false},"axis":{"orient":"top","labels":false,"title":null,"values":[361.9,361.905,361.91]}},"y":{"field":"v","type":"quantitative","scale":{"domain":[-0.02,0.03],"nice":false,"zero":false},"axis":{"orient":"right","labels":false,"title":null,"values":[-0.02,-0.01,0,0.01,0.02,0.03]}}}},
  {"data":{"name":"B4g"},"mark":{"type":"line","interpolate":"monotone","color":"#1fa54f","clip":true},"encoding":{"x":{"field":"f","type":"quantitative","scale":{"domain":[361.89898,361.91083],"nice":false,"zero":false},"axis":null},"y":{"field":"v","type":"quantitative","scale":{"domain":[-0.02,0.03],"nice":false,"zero":false},"axis":null}}}
 ]}
]
}
